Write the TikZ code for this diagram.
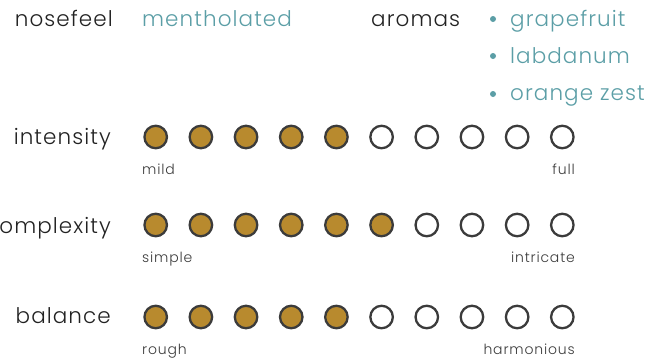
\documentclass[tikz,border=0pt]{standalone}
\usepackage{fontspec}
\setmainfont{Poppins}[UprightFont={* Light}]
\newfontfamily\bigfont{Poppins}[UprightFont={* Light}, LetterSpace=5]
\newfontfamily\smallfont{Poppins}[UprightFont={* Light}, LetterSpace=6]
\usepackage{tikz}

\definecolor{ink}{HTML}{222222}
\definecolor{rim}{HTML}{3B3B3B}
\definecolor{gold}{HTML}{B88A2E}
\definecolor{teal}{HTML}{5B9EA6}

\tikzset{
  head/.style={text=ink, font=\bigfont\fontsize{21.5}{24}\selectfont, inner sep=0pt},
  note/.style={text=teal, font=\bigfont\fontsize{21.5}{24}\selectfont, inner sep=0pt},
  scale label/.style={text=rim, font=\smallfont\fontsize{14}{16}\selectfont, inner sep=0pt},
  dot/.style={circle, draw=rim, line width=2.3pt, minimum size=22.5pt, inner sep=0pt},
  on/.style={dot, fill=gold},
  off/.style={dot, fill=white},
  bullet/.style={circle, fill=teal, minimum size=6pt, inner sep=0pt}
}

\begin{document}
\begin{tikzpicture}[x=1pt, y=-1pt]
    \useasboundingbox (0,0) rectangle (665,360);
    % header
    \node[head, anchor=base east] (nose) at (113,26) {nosefeel};
    \node[note, anchor=base west] (menthol) at (142,26) {mentholated};
    \node[head, anchor=base west] (aromas) at (371,26) {aromas};
    \node[bullet] (b1) at (493,19) {};
    \node[note, anchor=base west] (grape) at (510,26) {grapefruit};
    \node[bullet] (b2) at (493,56) {};
    \node[note, anchor=base west] (labd) at (510,63) {labdanum};
    \node[bullet] (b3) at (493,94) {};
    \node[note, anchor=base west] (orange) at (510,100) {orange zest};
    % scales
    \foreach \name/\y/\n/\lo/\hi/\base in {intensity/137/5/mild/full/144,
        complexity/225/6/simple/intricate/233,
        balance/317/5/rough/harmonious/323}{
      \node[head, anchor=base east] (\name) at (111,\base) {\name};
      \foreach \k in {1,...,10}{
        \ifnum\k>\n
          \node[off] (\name\k) at ({155.7+45.18*(\k-1)},\y) {};
        \else
          \node[on] (\name\k) at ({155.7+45.18*(\k-1)},\y) {};
        \fi
      }
      \node[scale label, anchor=base west] (\name-lo) at (142,\y+37) {\lo};
      \node[scale label, anchor=base east] (\name-hi) at (575,\y+37) {\hi};
    }
\end{tikzpicture}
\end{document}
